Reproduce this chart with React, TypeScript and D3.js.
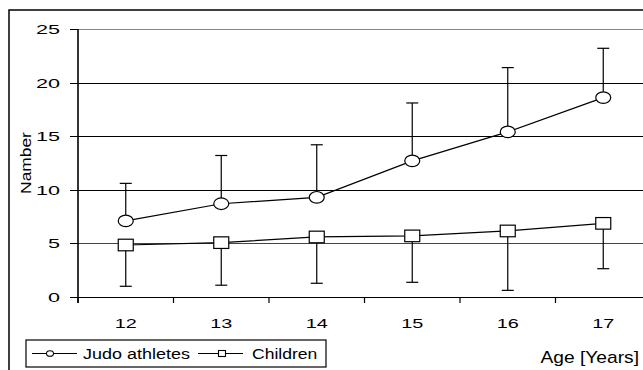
import React from "react";
import * as d3 from "d3";

const ages = ["12", "13", "14", "15", "16", "17"];
const judoMean = [7.1, 8.7, 9.3, 12.7, 15.4, 18.6];
const judoUpper = [10.6, 13.2, 14.2, 18.1, 21.4, 23.2];
const childMean = [4.85, 5.07, 5.6, 5.7, 6.16, 6.87];
const childLower = [1.0, 1.1, 1.28, 1.37, 0.62, 2.64];
const yTicks = [0, 5, 10, 15, 20, 25];
const gridColors = ["#000", "#444", "#000", "#000", "#000", "#888"];

const W = 643;
const H = 370;
const FONT = "'Liberation Sans', Arial, sans-serif";

function SText(props: {
  x: number;
  y: number;
  sx: number;
  size: number;
  anchor?: string;
  rotate?: number;
  children: React.ReactNode;
}) {
  const { x, y, sx, size, anchor, rotate, children } = props;
  return (
    <text
      transform={`translate(${x},${y})${rotate ? ` rotate(${rotate})` : ""} scale(${sx},1)`}
      textAnchor={anchor || "start"}
      fontSize={size}
      fill="#000"
    >
      {children}
    </text>
  );
}

export default function App() {
  const x = d3.scaleBand<string>().domain(ages).range([78, 651]);
  const y = d3.scaleLinear().domain([0, 25]).range([297, 29]);
  const cx = (a: string) => (x(a) as number) + x.bandwidth() / 2;
  const line = d3
    .line<number>()
    .x((_, i) => cx(ages[i]))
    .y((v) => y(v));
  const xTickPos = ages.map((a) => x(a) as number).concat([x.range()[1]]);

  return (
    <svg
      width={W}
      height={H}
      style={{ position: "absolute", left: 0, top: 0, background: "#fff" }}
      fontFamily={FONT}
    >
      <rect x={0} y={0} width={W} height={H} fill="#fff" />
      {/* outer frame */}
      <rect x={9} y={10} width={W + 20} height={H + 20} fill="none" stroke="#000" strokeWidth={1.5} />
      {/* gridlines */}
      {yTicks.slice(1).map((t, i) => (
        <line
          key={"g" + t}
          x1={78}
          x2={W}
          y1={Math.round(y(t)) + 0.5}
          y2={Math.round(y(t)) + 0.5}
          stroke={gridColors[i + 1]}
          strokeWidth={1}
        />
      ))}
      {/* x axis */}
      <line x1={78} x2={W} y1={297.5} y2={297.5} stroke="#000" strokeWidth={1.2} />
      {xTickPos.map((p, i) => (
        <line key={"xt" + i} x1={p} x2={p} y1={297} y2={303} stroke="#000" strokeWidth={1.2} />
      ))}
      {ages.map((a) => (
        <SText key={"xl" + a} x={cx(a)} y={328} sx={1.47} size={13.5} anchor="middle">
          {a}
        </SText>
      ))}
      {/* y axis */}
      <line x1={78} x2={78} y1={29} y2={303} stroke="#000" strokeWidth={1.6} />
      {yTicks.map((t) => (
        <g key={"yt" + t}>
          <line x1={70} x2={78} y1={Math.round(y(t)) + 0.5} y2={Math.round(y(t)) + 0.5} stroke="#000" strokeWidth={1} />
          <SText x={60} y={y(t) + 5} sx={1.6} size={13.5} anchor="end">
            {t}
          </SText>
        </g>
      ))}
      <SText x={31} y={163} sx={1.2} size={14.5} anchor="middle" rotate={-90}>
        Namber
      </SText>
      {/* error bars */}
      {ages.map((a, i) => (
        <g key={"ej" + a} stroke="#000" strokeWidth={1.2}>
          <line x1={cx(a)} x2={cx(a)} y1={y(judoMean[i])} y2={y(judoUpper[i])} />
          <line x1={cx(a) - 6} x2={cx(a) + 6} y1={y(judoUpper[i])} y2={y(judoUpper[i])} />
          <line x1={cx(a)} x2={cx(a)} y1={y(childMean[i])} y2={y(childLower[i])} />
          <line x1={cx(a) - 6} x2={cx(a) + 6} y1={y(childLower[i])} y2={y(childLower[i])} />
        </g>
      ))}
      {/* lines */}
      <path d={line(judoMean) as string} fill="none" stroke="#000" strokeWidth={1.2} />
      <path d={line(childMean) as string} fill="none" stroke="#000" strokeWidth={1.2} />
      {/* markers */}
      {ages.map((a, i) => (
        <ellipse
          key={"mj" + a}
          cx={cx(a)}
          cy={y(judoMean[i])}
          rx={7.5}
          ry={5.8}
          fill="#fff"
          stroke="#000"
          strokeWidth={1.2}
        />
      ))}
      {ages.map((a, i) => (
        <rect
          key={"mc" + a}
          x={cx(a) - 7.5}
          y={y(childMean[i]) - 5.8}
          width={15}
          height={11.6}
          fill="#fff"
          stroke="#000"
          strokeWidth={1.2}
        />
      ))}
      {/* legend */}
      <rect x={26} y={340} width={300} height={27} fill="#fff" stroke="#000" strokeWidth={1.2} />
      <line x1={32} x2={77} y1={353.5} y2={353.5} stroke="#000" strokeWidth={1.2} />
      <ellipse cx={50} cy={353.5} rx={3.5} ry={2.8} fill="#fff" stroke="#000" strokeWidth={1.1} />
      <SText x={83} y={358.5} sx={1.24} size={14.5}>
        Judo athletes
      </SText>
      <line x1={198} x2={243} y1={353.5} y2={353.5} stroke="#000" strokeWidth={1.2} />
      <rect x={218.5} y={350.5} width={7} height={6} fill="#fff" stroke="#000" strokeWidth={1.1} />
      <SText x={252} y={358.5} sx={1.21} size={14.5}>
        Children
      </SText>
      <SText x={639} y={363} sx={1.2} size={16} anchor="end">
        Age [Years]
      </SText>
    </svg>
  );
}
